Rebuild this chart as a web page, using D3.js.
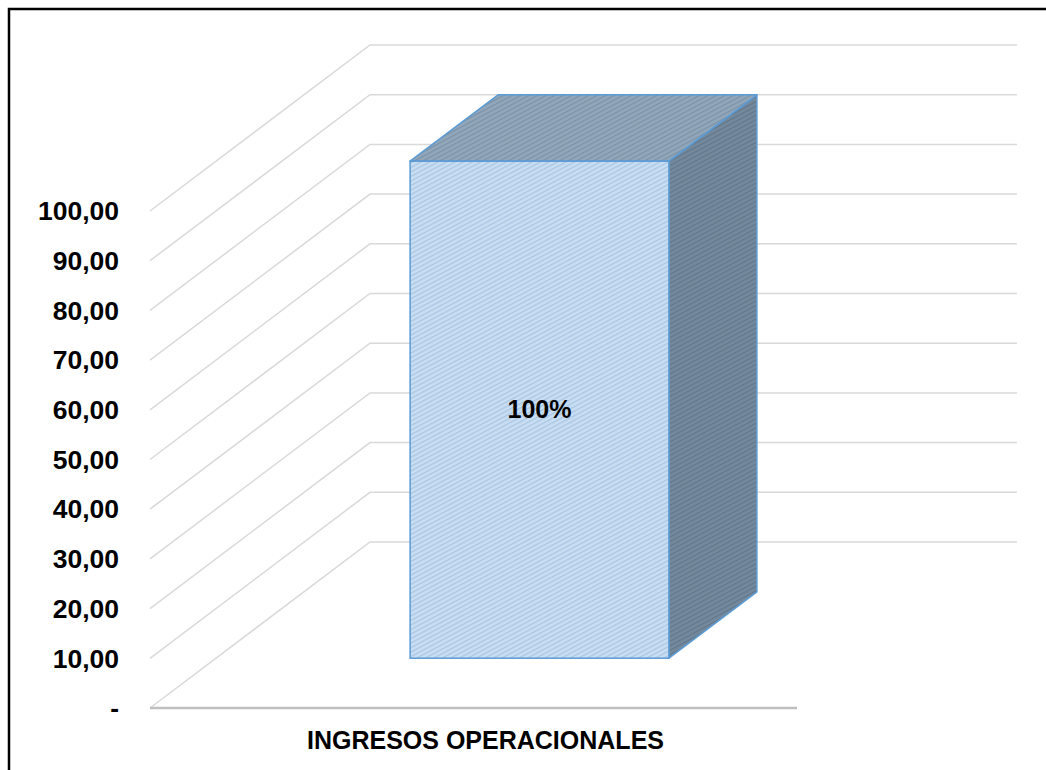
<!DOCTYPE html>
<html>
<head>
<meta charset="utf-8">
<script src="https://cdn.jsdelivr.net/npm/d3@7"></script>
<style>
  body { margin: 0; background: #fff; }
  text { font-family: "Liberation Sans", Arial, sans-serif; font-weight: bold; fill: #000; }
</style>
</head>
<body>
<div id="chart"></div>
<script>
// chart data
const categories = ["INGRESOS OPERACIONALES"];
const values = [100];
const valueLabels = ["100%"];
const yTicks = [0, 10, 20, 30, 40, 50, 60, 70, 80, 90, 100];

const width = 1046, height = 770;

const svg = d3.select("#chart").append("svg")
    .attr("width", width)
    .attr("height", height);

// hatch patterns, excel style
const defs = svg.append("defs");
function hatch(id, bg, fg) {
  let p = defs.append("pattern")
    .attr("id", id)
    .attr("patternUnits", "userSpaceOnUse")
    .attr("width", 4).attr("height", 4)
    .attr("patternTransform", "rotate(-28)");
  p.append("rect").attr("width", 4).attr("height", 4).attr("fill", bg);
  p.append("rect").attr("width", 4).attr("height", 1.3).attr("fill", fg);
}
hatch("hFront", "#c9def2", "#a8c6e4");
hatch("hTop", "#93a7ba", "#7d92a6");
hatch("hSide", "#75899c", "#62778b");

// front plane scales
const x = d3.scaleBand().domain(categories).range([150, 797])
    .paddingInner(0.6).paddingOuter(0.3);
const y = d3.scaleLinear().domain([0, 100]).range([708, 211]);

// depth of the 3d box
const depth = {dx: 220, dy: -166};
function proj(px, v, d) {
  return [px + d * depth.dx, y(v) + d * depth.dy];
}

const fmt = d3.formatLocale({decimal: ",", thousands: ".", grouping: [3], currency: ["", ""]}).format(",.2f");

// gridlines on floor / back wall
const grid = svg.append("g").attr("class", "grid");
grid.selectAll("path")
  .data(yTicks)
  .enter().append("path")
  .attr("d", function(v) {
    let a = proj(x.range()[0], v, 0);
    let b = proj(x.range()[0], v, 1);
    let c = proj(x.range()[1], v, 1);
    return "M" + a + "L" + b + "L" + c;
  })
  .attr("fill", "none")
  .attr("stroke", "#d9d9d9")
  .attr("stroke-width", 1.5);

// category axis line
svg.append("line")
  .attr("x1", x.range()[0]).attr("x2", x.range()[1])
  .attr("y1", y(0)).attr("y2", y(0))
  .attr("stroke", "#bfbfbf")
  .attr("stroke-width", 2.5);

// y labels
svg.append("g").selectAll("text")
  .data(yTicks)
  .enter().append("text")
  .attr("x", 119)
  .attr("y", d => y(d))
  .attr("dy", "0.35em")
  .attr("text-anchor", "end")
  .style("font-size", "26.5px")
  .text(d => d === 0 ? "-" : fmt(d));

// bars
const d0 = 0.3, d1 = 0.7;
const bars = svg.append("g").attr("class", "bars");
categories.forEach(function(cat, i) {
  let xl = x(cat), xr = x(cat) + x.bandwidth();
  let v = values[i];
  let g = bars.append("g");
  let poly = pts => "M" + pts.join("L") + "Z";

  // right side
  g.append("path")
    .attr("d", poly([proj(xr, 0, d0), proj(xr, 0, d1), proj(xr, v, d1), proj(xr, v, d0)]))
    .attr("fill", "url(#hSide)")
    .attr("stroke", "#5b9bd5").attr("stroke-width", 1.5).attr("stroke-linejoin", "round");
  // top
  g.append("path")
    .attr("d", poly([proj(xl, v, d0), proj(xl, v, d1), proj(xr, v, d1), proj(xr, v, d0)]))
    .attr("fill", "url(#hTop)")
    .attr("stroke", "#5b9bd5").attr("stroke-width", 1.5).attr("stroke-linejoin", "round");
  // front
  let fa = proj(xl, v, d0), fb = proj(xr, 0, d0);
  g.append("rect")
    .attr("x", fa[0]).attr("y", fa[1])
    .attr("width", fb[0] - fa[0]).attr("height", fb[1] - fa[1])
    .attr("fill", "url(#hFront)")
    .attr("stroke", "#5b9bd5").attr("stroke-width", 1.5);

  g.append("text")
    .attr("x", (fa[0] + fb[0]) / 2)
    .attr("y", (fa[1] + fb[1]) / 2)
    .attr("dy", "0.35em")
    .attr("text-anchor", "middle")
    .style("font-size", "25px")
    .text(valueLabels[i]);
});

// category labels (excel centres them a bit right of the front band)
svg.append("g").selectAll("text")
  .data(categories)
  .enter().append("text")
  .attr("x", d => x(d) + x.bandwidth() / 2 + 12)
  .attr("y", 749)
  .attr("text-anchor", "middle")
  .style("font-size", "25px")
  .text(d => d);

// outer frame (only top and left visible)
svg.append("path")
  .attr("d", "M9," + height + "L9,9L" + width + ",9")
  .attr("fill", "none")
  .attr("stroke", "#000")
  .attr("stroke-width", 2.5);
</script>
</body>
</html>
